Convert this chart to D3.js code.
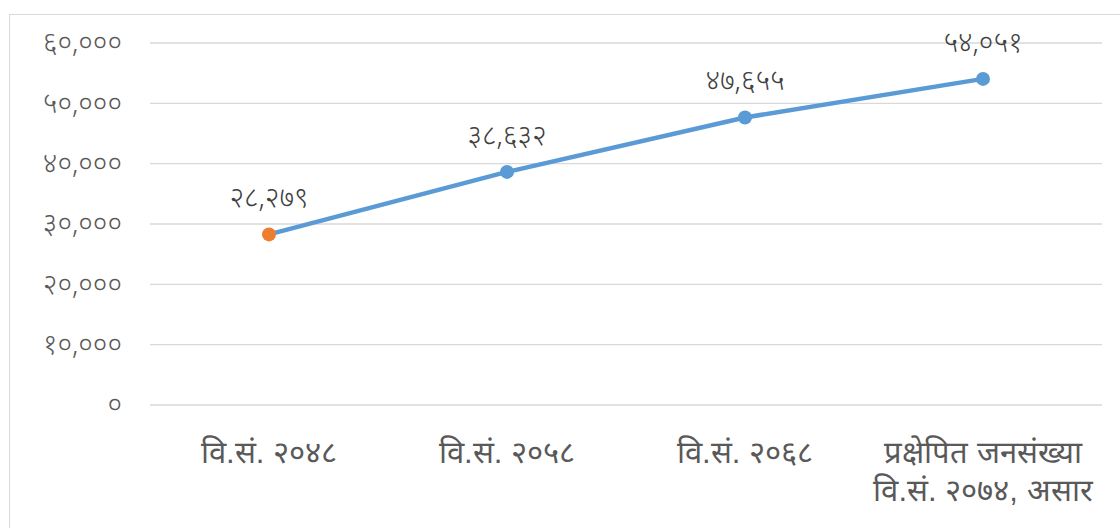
<!DOCTYPE html>
<html><head><meta charset="utf-8">
<script src="https://cdn.jsdelivr.net/npm/d3@7"></script>
<style>
html,body{margin:0;padding:0;background:#fff;}
svg{display:block;font-family:"Noto Sans","DejaVu Sans",sans-serif;}
</style></head>
<body><svg id="c" width="1120" height="528"></svg>
<script>
const categories = [["वि.सं. २०४८"],["वि.सं. २०५८"],["वि.सं. २०६८"],["प्रक्षेपित जनसंख्या","वि.सं. २०७४, असार"]];
const values = [28279, 38632, 47655, 54051];
const valueLabels = ["२८,२७९","३८,६३२","४७,६५५","५४,०५१"];
const yTicks = [0,10000,20000,30000,40000,50000,60000];
const yTickLabels = ["०","१०,०००","२०,०००","३०,०००","४०,०००","५०,०००","६०,०००"];

const svg = d3.select("#c");
svg.append("rect").attr("x",9.5).attr("y",14.5).attr("width",1120).attr("height",520)
  .attr("fill","#fff").attr("stroke","#d9d9d9");

const x = d3.scaleBand().domain(d3.range(categories.length)).range([150,1102]);
const y = d3.scaleLinear().domain([0,60000]).range([405,43]);

const grid = svg.append("g");
grid.selectAll("line").data(yTicks).join("line")
  .attr("x1",150).attr("x2",1102).attr("y1",d=>y(d)).attr("y2",d=>y(d))
  .attr("stroke","#d9d9d9").attr("stroke-width",1.3);

const yAxis = d3.axisLeft(y).tickValues(yTicks).tickFormat((d,i)=>yTickLabels[i]).tickSize(0).tickPadding(28);
const ya = svg.append("g").attr("transform","translate(150,0)").call(yAxis);
ya.select(".domain").remove();
ya.selectAll("text").attr("fill","#595959").attr("font-size",28).attr("font-weight",300)
  .attr("font-family","'Noto Sans','DejaVu Sans',sans-serif");

const xAxis = d3.axisBottom(x).tickFormat(()=> "").tickSize(0);
const xa = svg.append("g").attr("transform","translate(0,405)").call(xAxis);
xa.select(".domain").remove();
xa.selectAll(".tick").each(function(d){
  const t = d3.select(this).append("text").attr("fill","#595959").attr("font-size",31)
    .attr("font-weight",300).attr("text-anchor","middle");
  categories[d].forEach((line,j)=>{
    t.append("tspan").attr("x",0).attr("y",58 + j*38).text(line);
  });
});

const cx = i => x(i) + x.bandwidth()/2;
const line = d3.line().x((d,i)=>cx(i)).y(d=>y(d));
svg.append("path").datum(values).attr("d",line).attr("fill","none")
  .attr("stroke","#5b9bd5").attr("stroke-width",4.5).attr("stroke-linejoin","round");

svg.selectAll("circle.pt").data(values).join("circle").attr("class","pt")
  .attr("cx",(d,i)=>cx(i)).attr("cy",d=>y(d)).attr("r",7)
  .attr("fill",(d,i)=> i===0 ? "#ed7d31" : "#5b9bd5");

svg.selectAll("text.lbl").data(values).join("text").attr("class","lbl")
  .attr("x",(d,i)=>cx(i)).attr("y",d=>y(d)-27).attr("text-anchor","middle")
  .attr("fill","#404040").attr("font-size",28).attr("font-weight",300).text((d,i)=>valueLabels[i]);
</script></body></html>
